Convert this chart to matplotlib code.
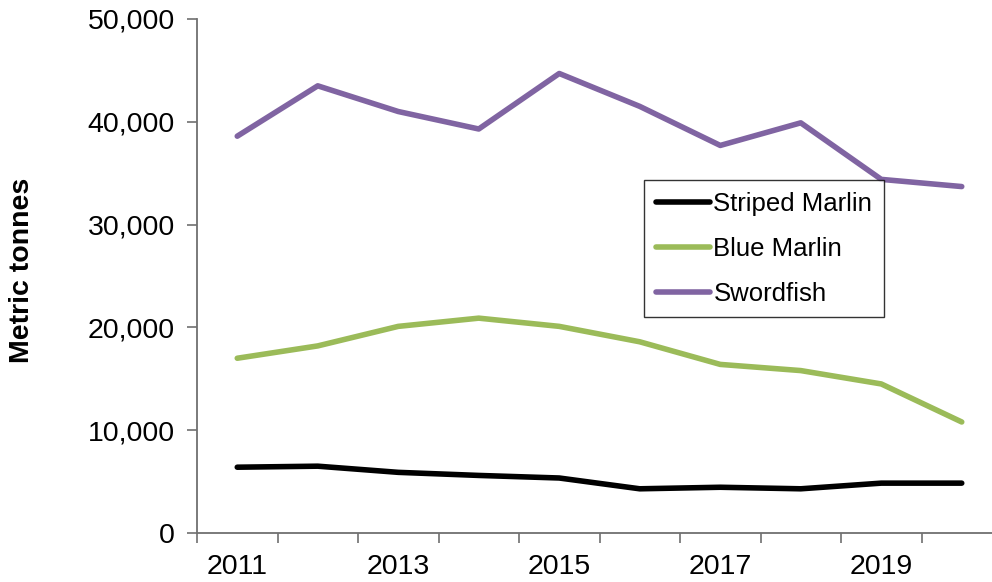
import numpy as np
import matplotlib
matplotlib.use("Agg")
import matplotlib.pyplot as plt
from matplotlib.ticker import FuncFormatter

plt.rcParams["font.family"] = ["Liberation Sans", "DejaVu Sans"]

years = ["2011", "2012", "2013", "2014", "2015", "2016", "2017", "2018", "2019", "2020"]
striped_marlin = [6400, 6500, 5900, 5600, 5350, 4300, 4450, 4300, 4850, 4850]
blue_marlin = [17000, 18200, 20100, 20900, 20100, 18600, 16400, 15800, 14500, 10800]
swordfish = [38600, 43500, 41000, 39300, 44700, 41500, 37700, 39900, 34400, 33700]

series = [
    ("Striped Marlin", striped_marlin, "#000000"),
    ("Blue Marlin", blue_marlin, "#9BBB59"),
    ("Swordfish", swordfish, "#8064A2"),
]

W, H = 992, 582
fig = plt.figure(figsize=(W / 100, H / 100), dpi=100)
ax = fig.add_axes([197 / W, 1 - 533 / H, (1002 - 197) / W, (533 - 19) / H])

x = np.arange(len(years))
for name, vals, col in series:
    ax.plot(x, vals, color=col, lw=4.0, label=name, solid_capstyle="round")

ax.set_xlim(-0.5, len(years) - 0.5)
ax.set_ylim(0, 50000)
ax.set_yticks(np.arange(0, 50001, 10000))
ax.yaxis.set_major_formatter(FuncFormatter(lambda v, p: f"{int(v):,}"))

# labels every other year, tick marks between categories
ax.set_xticks(x[::2])
ax.set_xticklabels(years[::2])
ax.set_xticks(np.arange(-0.5, len(years), 1), minor=True)
ax.tick_params(axis="x", which="major", length=0, pad=15, labelsize=20.5)
ax.tick_params(axis="x", which="minor", length=7, width=1.2, color="#707070")
ax.tick_params(axis="y", length=7, width=1.2, color="#707070", pad=9, labelsize=20.5)

for s in ["top", "right"]:
    ax.spines[s].set_visible(False)
for s in ["left", "bottom"]:
    ax.spines[s].set_color("#707070")
    ax.spines[s].set_linewidth(1.3)

fig.text(22 / W, 1 - 270 / H, "Metric tonnes", rotation=90, ha="center", va="center",
         fontsize=20.5, fontweight="bold")

leg = ax.legend(loc="upper left", bbox_to_anchor=(644 / W, 1 - 180 / H),
                bbox_transform=fig.transFigure, borderaxespad=0, frameon=True,
                fancybox=False, edgecolor="black", fontsize=18.5,
                handlelength=2.1, handletextpad=0.15, labelspacing=0.82,
                borderpad=0.45)
leg.get_frame().set_linewidth(1.0)

fig.savefig("out.png", dpi=100)
